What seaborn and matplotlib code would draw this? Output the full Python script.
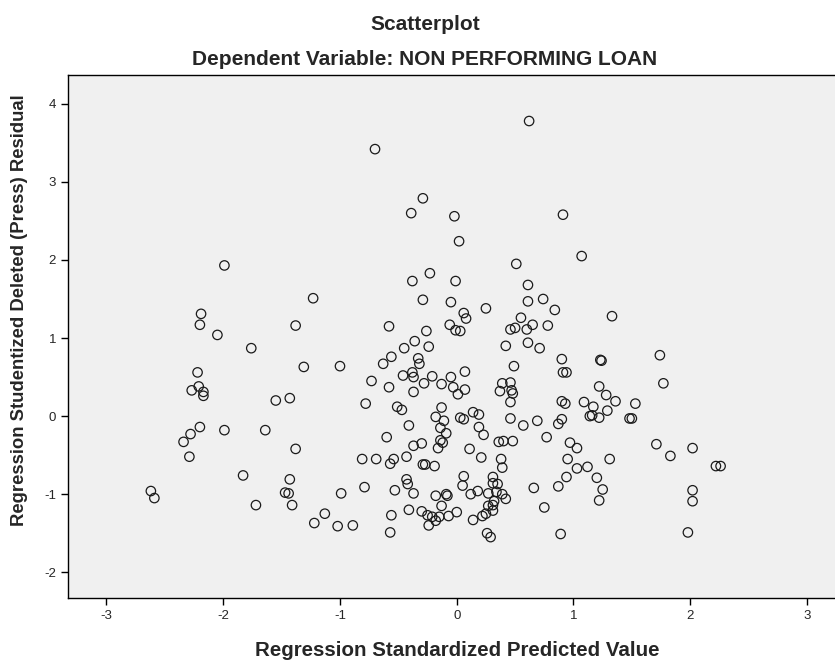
import matplotlib
matplotlib.use("Agg")
import matplotlib.pyplot as plt
import seaborn as sns
import pandas as pd

# values (standardized predicted, studentized deleted residual)
predicted = [
    -1.99, -1.23, -2.19, -2.20, -2.05, -1.38, -1.76,
    0.62, -0.70, -0.29, -0.39, -0.02, 0.91, 0.02, 1.07, 0.51, -0.23, -0.38, -0.01,
    0.61, -0.29, -0.05, 0.61, 0.74, 0.25, 0.84, 0.06, 0.08, 0.55, -0.58, -0.06,
    -0.01, 0.03, -0.26, -0.36, 0.46, 0.50, 0.60, 0.65, 0.78, 0.61, -0.45, -0.24,
    0.42, 0.71, 1.33,
    -1.31, -2.22, -2.27, -2.21, -2.17, -2.17, -1.55, -1.43, -2.20, -2.28, -2.34,
    -2.29, -1.99, -1.64, -1.38, -1.83, -1.43, -1.47, -1.44, -1.41, -1.72, -2.62,
    -2.59, -1.13, -1.22,
    -1.00, -0.56, -0.63, -0.33, -0.32, -0.38, -0.46, -0.37, -0.21, 0.07, -0.05,
    -0.13, -0.28, -0.73, -0.58, -0.37, -0.03, 0.07, 0.01, 0.49, 0.39, 0.37, 0.46,
    0.47, 0.48, 0.46, 0.90, 0.91, 0.94, 0.90, 0.93, 1.09, -0.78, -0.51, -0.47,
    -0.13, -0.18, -0.11, -0.14, -0.09, 0.03, 0.06, 0.14, 0.19, 0.19, 0.23, -0.41,
    -0.60, -0.37, -0.30, -0.14, -0.16, -0.12, 0.11, 0.21, 0.36, 0.40, 0.48, 0.38,
    0.39, 0.57, 0.69, 0.46, 0.77, 0.87, 0.90, 0.97, 1.03, 0.95, 1.03, 1.12, 1.14,
    -0.81, -0.69, -0.57, -0.54, -0.43, -0.29, -0.27, -0.19, 0.06, 0.05, -0.79,
    -0.99, -1.02, -0.89, -0.43, -0.42, -0.53, -0.37, -0.18, -0.09, -0.08, -0.13,
    0.12, 0.18, 0.27, 0.31, 0.31, 0.35, 0.34, 0.39, 0.42, 0.32, 0.31, 0.27, 0.31,
    0.25, 0.22, 0.14, 0.66, 0.87, 0.94, 0.75, 0.89, 0.26, 0.29, -0.41, -0.30,
    -0.25, -0.21, -0.18, -0.15, -0.07, 0.00, -0.24, -0.56, -0.57,
    1.23, 1.24, 1.74, 1.77, 1.22, 1.28, 1.36, 1.53, 1.17, 1.29, 1.16, 1.22, 1.48,
    1.50, 1.31, 1.20, 1.25, 1.22, 1.71, 1.83, 2.02, 2.22, 2.26, 2.02, 2.02, 1.98,
]
residual = [
    1.93, 1.51, 1.31, 1.17, 1.04, 1.16, 0.87,
    3.78, 3.42, 2.79, 2.60, 2.56, 2.58, 2.24, 2.05, 1.95, 1.83, 1.73, 1.73,
    1.68, 1.49, 1.46, 1.47, 1.50, 1.38, 1.36, 1.32, 1.25, 1.26, 1.15, 1.17,
    1.10, 1.09, 1.09, 0.96, 1.11, 1.13, 1.11, 1.17, 1.16, 0.94, 0.87, 0.89,
    0.90, 0.87, 1.28,
    0.63, 0.56, 0.33, 0.38, 0.31, 0.26, 0.20, 0.23, -0.14, -0.23, -0.33,
    -0.52, -0.18, -0.18, -0.42, -0.76, -0.81, -0.98, -0.99, -1.14, -1.14, -0.96,
    -1.05, -1.25, -1.37,
    0.64, 0.76, 0.67, 0.74, 0.67, 0.56, 0.52, 0.50, 0.51, 0.57, 0.50,
    0.41, 0.42, 0.45, 0.37, 0.31, 0.37, 0.34, 0.28, 0.64, 0.42, 0.32, 0.43,
    0.33, 0.29, 0.18, 0.73, 0.56, 0.56, 0.19, 0.16, 0.18, 0.16, 0.12, 0.08,
    0.11, -0.01, -0.06, -0.15, -0.22, -0.02, -0.04, 0.05, 0.02, -0.14, -0.24, -0.12,
    -0.27, -0.38, -0.35, -0.31, -0.41, -0.34, -0.42, -0.53, -0.33, -0.32, -0.32, -0.55,
    -0.66, -0.12, -0.06, -0.03, -0.27, -0.10, -0.04, -0.34, -0.41, -0.55, -0.67, -0.65, 0.00,
    -0.55, -0.55, -0.61, -0.55, -0.52, -0.62, -0.62, -0.64, -0.77, -0.89, -0.91,
    -0.99, -1.41, -1.40, -0.81, -0.87, -0.95, -0.99, -1.02, -1.00, -1.02, -1.15,
    -1.00, -0.96, -0.99, -0.78, -0.86, -0.87, -0.97, -1.00, -1.06, -1.09, -1.14, -1.15, -1.21,
    -1.25, -1.28, -1.33, -0.92, -0.90, -0.78, -1.17, -1.51, -1.50, -1.55, -1.20, -1.22,
    -1.27, -1.29, -1.34, -1.29, -1.28, -1.23, -1.40, -1.27, -1.49,
    0.72, 0.71, 0.78, 0.42, 0.38, 0.27, 0.19, 0.16, 0.12, 0.07, 0.01, -0.02, -0.03,
    -0.03, -0.55, -0.79, -0.94, -1.08, -0.36, -0.51, -0.41, -0.64, -0.64, -0.95, -1.09, -1.49,
]

df = pd.DataFrame({"pred": predicted, "resid": residual})

sns.set_style("white")
plt.rcParams["font.family"] = ["Liberation Sans", "DejaVu Sans"]
plt.rcParams["axes.unicode_minus"] = False

fig = plt.figure(figsize=(8.35, 6.64), dpi=100)
ax = fig.add_axes([0.0814, 0.0994, 0.9186, 0.7877])
ax.set_facecolor("#f0f0f0")

sns.scatterplot(data=df, x="pred", y="resid", ax=ax, marker="o", s=46,
                facecolors="none", edgecolor="#1a1a1a", linewidth=0.9)

ax.set_xlim(-3.33, 3.24)
ax.set_ylim(-2.33, 4.37)
ax.set_xticks([-3, -2, -1, 0, 1, 2, 3])
ax.set_yticks([-2, -1, 0, 1, 2, 3, 4])
ax.tick_params(direction="out", length=5, width=1, labelsize=9.5, color="black",
               bottom=True, left=True)
for side in ["left", "bottom", "top"]:
    ax.spines[side].set_color("black")
    ax.spines[side].set_linewidth(1.0)
ax.spines["right"].set_visible(False)

ax.set_xlabel("Regression Standardized Predicted Value", fontsize=14.8, fontweight="bold")
ax.set_ylabel("Regression Studentized Deleted (Press) Residual", fontsize=13.3, fontweight="bold")
ax.xaxis.set_label_coords(0.508, -0.082)
ax.yaxis.set_label_coords(-0.052, 0.551)

fig.text(425 / 835, 1 - 30 / 664, "Scatterplot", ha="center", va="baseline",
         fontsize=15, fontweight="bold")
fig.text(425 / 835, 1 - 65 / 664, "Dependent Variable: NON PERFORMING LOAN", ha="center",
         va="baseline", fontsize=15, fontweight="bold")

fig.savefig("out.png", dpi=100)
plt.close(fig)
